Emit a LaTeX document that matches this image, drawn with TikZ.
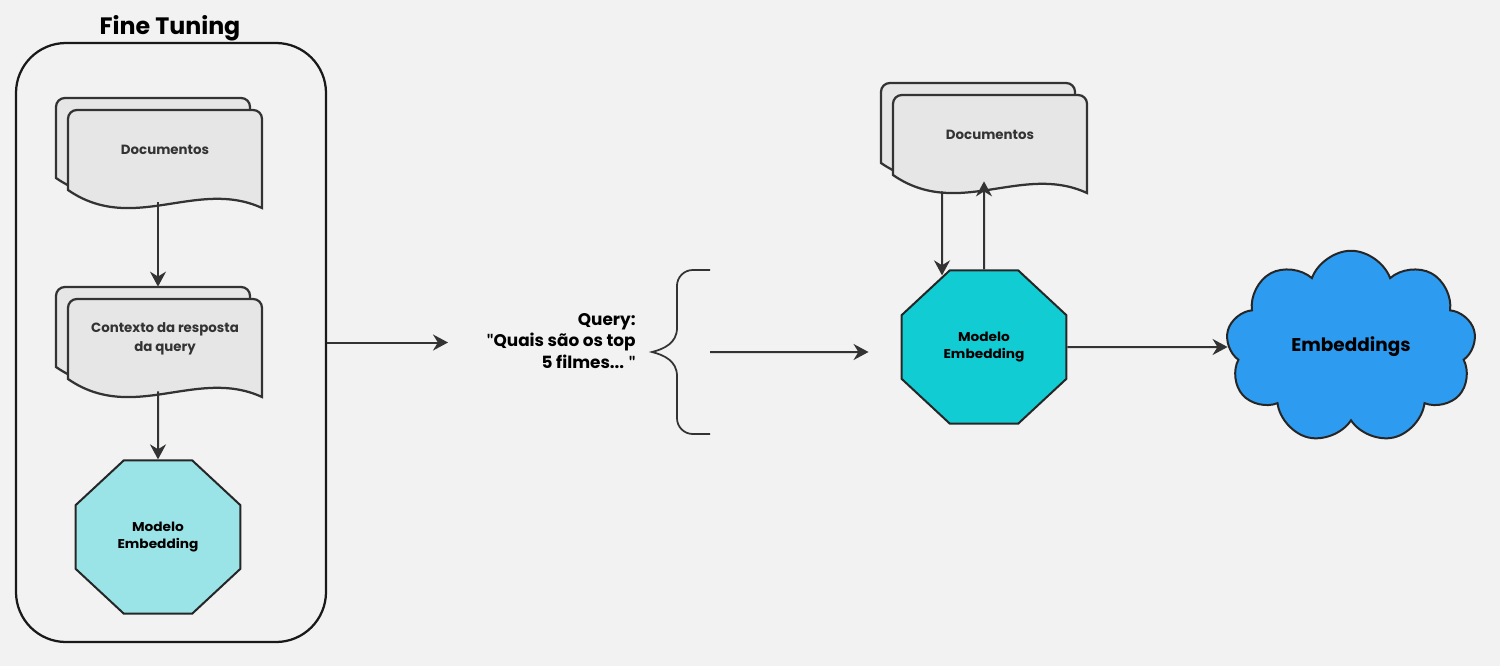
\documentclass[tikz,border=0pt]{standalone}
\usepackage{fontspec}
\setmainfont{Poppins}
\newfontfamily\quotefont{Lato}
\usetikzlibrary{shapes.geometric,shapes.symbols,arrows.meta,positioning}

\definecolor{paper}{HTML}{F2F2F2}
\definecolor{sheet}{HTML}{E6E6E6}
\definecolor{ink}{HTML}{333333}
\definecolor{tealpale}{HTML}{9AE3E7}
\definecolor{tealdeep}{HTML}{12CCD4}
\definecolor{cloudblue}{HTML}{2D9BF0}

\newcommand{\dquote}{{\quotefont\symbol{34}}}

% two stacked sheets with a wavy bottom, then the text node on top
\newcommand{\docstack}[3]{%
  \coordinate (#1-c) at (#2);
  \foreach \off in {-12,0}{
    \draw[sheetline]
      ([shift={(97+\off,58+\off)}]#1-c) [rounded corners=5pt]
      -- ([shift={(97+\off,-40+\off)}]#1-c)
      -- ([shift={(-97+\off,-40+\off)}]#1-c) [sharp corners]
      -- ([shift={(-97+\off,40+\off)}]#1-c)
      .. controls +(65,45) and +(-65,-30) .. ([shift={(97+\off,58+\off)}]#1-c) -- cycle;
  }
  \node[docnode] (#1) at (#2) {#3};}

\begin{document}
\begin{tikzpicture}[x=0.2mm, y=-0.2mm,
					docnode/.style={rectangle,
					minimum width=3.88cm,
					minimum height=1.6cm,
					inner sep=0pt,
					align=center,
					text=ink,
					font=\bfseries\fontsize{7.6}{10.5}\selectfont},
					sheetline/.style={draw=ink, line width=0.45mm, fill=sheet},
					octnode/.style={regular polygon,
					regular polygon sides=8,
					minimum size=3.57cm,
					transform shape,
					yscale=0.93,
					draw=black!85,
					line width=0.4mm,
					align=center,
					font=\bfseries\fontsize{7.8}{10.5}\selectfont},
					cloudnode/.style={cloud,
					cloud puffs=9,
					cloud puff arc=140,
					aspect=1.33,
					minimum width=5.0cm,
					minimum height=3.85cm,
					draw=black!85,
					line width=0.4mm,
					fill=cloudblue,
					font=\bfseries\fontsize{10.5}{12}\selectfont},
					frame/.style={rectangle,
					rounded corners=1cm,
					minimum width=6.2cm,
					minimum height=11.98cm,
					draw=black!90,
					line width=0.45mm},
					flow/.style={-{Stealth[length=3mm, width=3.2mm]}, draw=ink, line width=0.4mm}
					]

\fill[paper] (0,0) rectangle (1500,666);

%fine tuning block
\node[frame] (ft) at (171,342.5) {};
\node[font=\bfseries\fontsize{13.5}{15}\selectfont] (fttitle) at (170,28) {Fine Tuning};

\docstack{docs}{165,150}{Documentos}
\docstack{ctx}{165,339}{Contexto da resposta\\da query}
\node[octnode, fill=tealpale] (embft) at (158,537) {Modelo\\Embedding};

% query and brace
\node[font=\bfseries\fontsize{9.6}{12}\selectfont, align=right, inner sep=0pt, anchor=east] (query) at (636,341) {Query:\\\dquote Quais são os top\\5 filmes... \dquote};
\draw[ink, line width=0.35mm] (710,270) [rounded corners=9] -- (677,270) -- (677,300) [sharp corners] -- (677,328)
  .. controls (677,343) and (664,349) .. (652,352)
  .. controls (664,355) and (677,361) .. (677,376) [rounded corners=9] -- (677,434) -- (710,434);
\coordinate (braceend) at (710,352);
\coordinate (qin) at (448,342.5);

% right side
\docstack{docsr}{990,135}{Documentos}
\node[octnode, fill=tealdeep] (embq) at (984,347) {Modelo\\Embedding};
\node[cloudnode] (emb) at (1351,347) {Embeddings};

% Arrows
\draw[flow] ([shift={(-7,12)}]docs.south) -- ([shift={(-7,-12)}]ctx.north);
\draw[flow] ([shift={(-7,12)}]ctx.south) -- (embft.north);
\draw[flow] (ft.east) -- (qin);
\draw[flow] (braceend) -- ([shift={(-32,5)}]embq.west);
\draw[flow] ([shift={(-48,16)}]docsr.south) -- ([shift={(-42,6)}]embq.north);
\draw[flow] (embq.north) -- ([shift={(-6,6)}]docsr.south);
\draw[flow] (embq.east) -- (emb.west);

\end{tikzpicture}
\end{document}
